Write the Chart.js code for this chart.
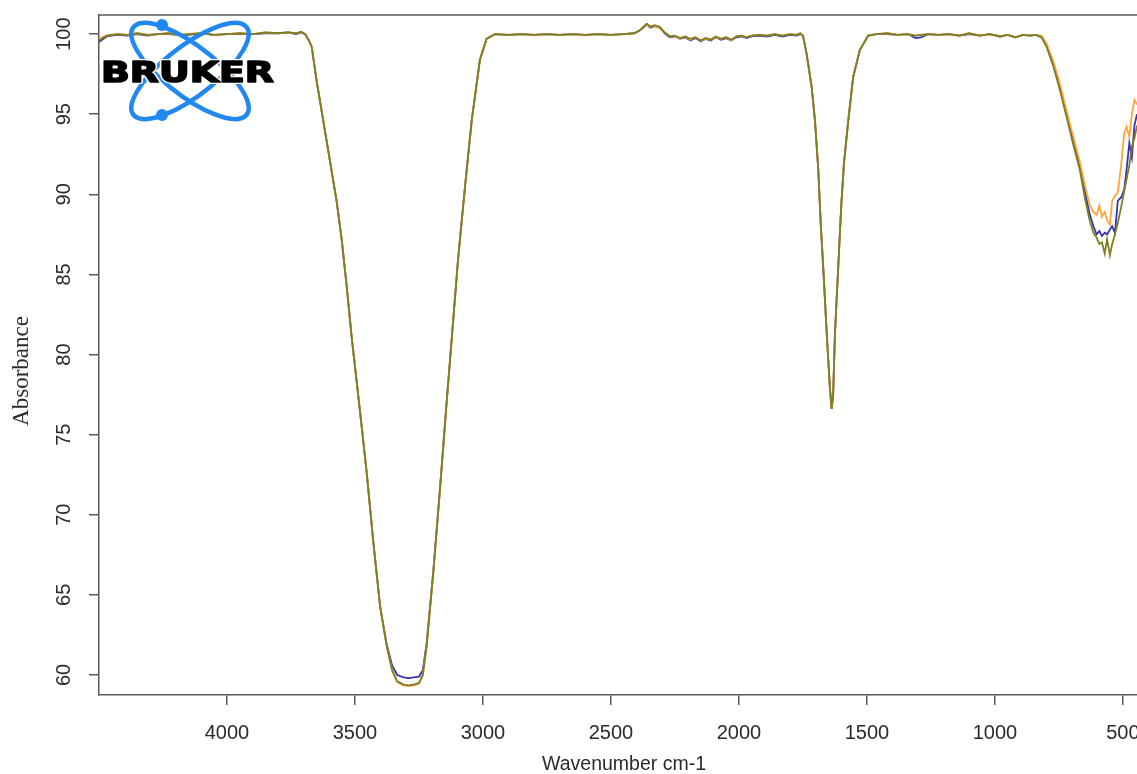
<!DOCTYPE html>
<html>
<head>
<meta charset="utf-8">
<title>FTIR spectrum</title>
<script src="https://cdn.jsdelivr.net/npm/chart.js@4.4.1/dist/chart.umd.min.js"></script>
<style>
  html, body { margin: 0; padding: 0; background: #fff; }
  #wrap { width: 1137px; height: 774px; }
</style>
</head>
<body>
<div id="wrap"><canvas id="spectrum" width="1137" height="774"></canvas></div>
<script>
/* ── Data ──────────────────────────────────────────────── */
const wavenumbers = [
  4500, 4470, 4430, 4390, 4350, 4310, 4270, 4230, 4190, 4150, 4100, 4050, 4000, 3950, 3900, 3850,
  3800, 3760, 3730, 3710, 3695, 3680, 3669, 3650, 3624, 3598, 3572, 3552, 3532, 3513, 3480, 3454,
  3429, 3402, 3376, 3355, 3335, 3310, 3290, 3270, 3250, 3235, 3220, 3194, 3168, 3142, 3122, 3097,
  3070, 3044, 3012, 2986, 2953, 2900, 2850, 2800, 2750, 2700, 2650, 2600, 2550, 2500, 2450, 2410,
  2390, 2370, 2360, 2345, 2330, 2310, 2290, 2270, 2250, 2230, 2210, 2190, 2170, 2150, 2130, 2110,
  2090, 2070, 2050, 2030, 2010, 1990, 1970, 1950, 1920, 1890, 1860, 1830, 1800, 1775, 1760, 1750,
  1736, 1716, 1703, 1690, 1680, 1671, 1657, 1645, 1638, 1632, 1625, 1612, 1600, 1590, 1573, 1554,
  1528, 1495, 1462, 1420, 1380, 1340, 1310, 1290, 1260, 1220, 1180, 1140, 1100, 1060, 1020, 980,
  950, 920, 890, 863, 840, 818, 798, 772, 746, 720, 694, 668, 649, 629, 615, 603,
  592, 582, 571, 562, 551, 542, 531, 520, 507, 495, 486, 475, 465, 455, 445
];

const sampleOlive = [
  99.6, 99.9, 100.0, 99.95, 100.05, 99.95, 100.0, 100.05, 99.95, 100.0, 100.05, 99.95, 100.0, 100.05, 100.0, 100.1,
  100.05, 100.1, 100.05, 100.15, 100.0, 99.6, 99.2, 97.1, 94.6, 92.1, 89.6, 87.2, 84.2, 81.1, 76.4, 72.6,
  68.4, 64.3, 61.8, 60.3, 59.6, 59.4, 59.35, 59.4, 59.5, 60.0, 61.8, 66.4, 71.6, 77.0, 81.0, 86.0,
  90.5, 94.6, 98.4, 99.7, 100.0, 99.95, 100.0, 99.95, 100.0, 99.95, 100.0, 99.95, 100.0, 99.95, 100.0, 100.05,
  100.2, 100.5, 100.65, 100.45, 100.55, 100.45, 100.1, 99.85, 99.9, 99.75, 99.85, 99.7, 99.8, 99.6, 99.75, 99.65,
  99.85, 99.7, 99.8, 99.65, 99.85, 99.9, 99.8, 99.9, 99.95, 99.9, 100.0, 99.9, 100.0, 99.95, 100.05, 99.9,
  98.8, 96.7, 94.6, 91.5, 88.0, 85.5, 81.3, 78.0, 76.6, 77.5, 81.3, 85.5, 89.4, 91.9, 94.6, 97.3,
  99.0, 99.9, 100.0, 100.05, 99.95, 100.0, 99.9, 99.95, 100.0, 99.95, 100.0, 99.9, 100.05, 99.9, 100.0, 99.85,
  99.95, 99.8, 99.95, 99.9, 99.95, 99.8, 99.2, 98.0, 96.5, 94.8, 93.1, 91.5, 89.8, 88.3, 87.6, 87.3,
  86.9, 87.0, 86.3, 87.2, 86.2, 86.9, 87.5, 88.2, 89.2, 90.2, 90.9, 91.8, 93.0, 93.5, 94.3
];

const sampleOrange = [
  99.7, 99.9, 100.0, 99.95, 100.05, 99.95, 100.0, 100.05, 99.95, 100.0, 100.05, 99.95, 100.0, 100.05, 100.0, 100.1,
  100.05, 100.1, 100.05, 100.15, 100.0, 99.6, 99.2, 97.1, 94.6, 92.1, 89.6, 87.2, 84.2, 81.1, 76.4, 72.6,
  68.4, 64.3, 61.8, 60.3, 59.55, 59.35, 59.3, 59.35, 59.45, 60.0, 61.8, 66.4, 71.6, 77.0, 81.0, 86.0,
  90.5, 94.6, 98.4, 99.7, 100.0, 99.95, 100.0, 99.95, 100.0, 99.95, 100.0, 99.95, 100.0, 99.95, 100.0, 100.05,
  100.2, 100.5, 100.6, 100.45, 100.5, 100.4, 100.1, 99.85, 99.85, 99.7, 99.85, 99.65, 99.8, 99.6, 99.7, 99.65,
  99.8, 99.7, 99.8, 99.6, 99.85, 99.9, 99.8, 99.9, 99.95, 99.9, 100.0, 99.9, 100.0, 99.95, 100.05, 99.9,
  98.8, 96.7, 94.6, 91.5, 88.0, 85.5, 81.3, 78.0, 76.6, 77.5, 81.3, 85.5, 89.4, 91.9, 94.6, 97.3,
  99.0, 99.9, 100.0, 100.05, 99.95, 100.0, 99.9, 99.95, 100.0, 99.95, 100.0, 99.9, 100.05, 99.9, 100.0, 99.85,
  99.95, 99.8, 99.95, 99.9, 99.95, 99.9, 99.4, 98.3, 96.9, 95.2, 93.6, 92.0, 90.6, 89.3, 88.9, 88.7,
  89.3, 88.6, 88.9, 88.4, 88.1, 89.6, 89.9, 90.1, 91.8, 93.8, 94.2, 93.6, 95.0, 95.9, 95.6
];

const sampleBlue = [
  99.5, 99.85, 99.95, 99.9, 100.0, 99.9, 100.0, 100.0, 99.95, 99.95, 100.05, 99.95, 100.0, 100.0, 100.0, 100.05,
  100.05, 100.1, 100.0, 100.1, 100.0, 99.6, 99.2, 97.1, 94.6, 92.1, 89.6, 87.2, 84.2, 81.1, 76.4, 72.6,
  68.4, 64.3, 61.9, 60.6, 60.0, 59.85, 59.8, 59.85, 59.9, 60.3, 62.0, 66.5, 71.6, 77.0, 81.0, 86.0,
  90.5, 94.6, 98.4, 99.7, 100.0, 99.95, 100.0, 99.95, 100.0, 99.95, 100.0, 99.95, 100.0, 99.95, 100.0, 100.05,
  100.2, 100.45, 100.6, 100.4, 100.5, 100.4, 100.05, 99.8, 99.85, 99.7, 99.8, 99.6, 99.75, 99.55, 99.7, 99.6,
  99.8, 99.65, 99.75, 99.6, 99.8, 99.85, 99.75, 99.85, 99.9, 99.85, 99.95, 99.85, 99.95, 99.9, 100.0, 99.9,
  98.8, 96.7, 94.6, 91.5, 88.0, 85.5, 81.3, 78.0, 76.6, 77.5, 81.3, 85.5, 89.4, 91.9, 94.6, 97.3,
  99.0, 99.9, 100.0, 100.0, 99.95, 100.0, 99.75, 99.8, 100.0, 99.95, 100.0, 99.9, 100.0, 99.9, 100.0, 99.85,
  99.95, 99.8, 99.95, 99.9, 99.95, 99.8, 99.3, 98.1, 96.7, 95.0, 93.3, 91.7, 90.2, 88.7, 88.0, 87.5,
  87.7, 87.4, 87.6, 87.5, 87.8, 88.0, 87.6, 89.6, 89.8, 90.3, 91.5, 93.2, 92.3, 94.3, 95.0
];

const xTickLabels = [4000, 3500, 3000, 2500, 2000, 1500, 1000, 500];
const yTickLabels = [60, 65, 70, 75, 80, 85, 90, 95, 100];

/* ── Styling ───────────────────────────────────────────── */
const AXIS_COLOR = '#5a5a5a';
const TEXT_COLOR = '#2a2a2a';
const SANS = '"Liberation Sans", Arial, sans-serif';

const toPoints = ys => wavenumbers.map((w, i) => ({ x: w, y: ys[i] }));

/* ── Plugin: frame top line, rotated y labels, titles, logo */
const decorations = {
  id: 'decorations',
  afterDraw(chart) {
    const { ctx, chartArea: a, scales } = chart;
    ctx.save();

    // top line of the box
    ctx.strokeStyle = AXIS_COLOR;
    ctx.lineWidth = 1.5;
    ctx.beginPath();
    ctx.moveTo(a.left, a.top);
    ctx.lineTo(a.right, a.top);
    ctx.stroke();

    // y tick labels, R style (rotated)
    ctx.fillStyle = TEXT_COLOR;
    ctx.font = '20px ' + SANS;
    ctx.textAlign = 'center';
    ctx.textBaseline = 'middle';
    yTickLabels.forEach(v => {
      const py = scales.y.getPixelForValue(v);
      ctx.save();
      ctx.translate(64, py);
      ctx.rotate(-Math.PI / 2);
      ctx.fillText(String(v), 0, 0);
      ctx.restore();
    });

    // axis titles
    ctx.font = '19.5px ' + SANS;
    ctx.fillText('Wavenumber cm-1', 624, 765);
    ctx.save();
    ctx.translate(22, 371);
    ctx.rotate(-Math.PI / 2);
    ctx.font = '23px "Liberation Serif", "Times New Roman", serif';
    ctx.fillText('Absorbance', 0, 0);
    ctx.restore();

    drawLogo(ctx);
    ctx.restore();
  }
};

function drawLogo(ctx) {
  const cx = 190, cy = 71;
  ctx.save();
  ctx.strokeStyle = '#2188f2';
  ctx.lineWidth = 4.5;
  [-1, 1].forEach(dir => {
    ctx.save();
    ctx.translate(cx, cy);
    ctx.scale(1, 0.82);
    ctx.rotate(dir * Math.PI / 4);
    ctx.beginPath();
    ctx.ellipse(0, 0, 78, 28, 0, 0, Math.PI * 2);
    ctx.restore();
    ctx.stroke();
  });
  ctx.fillStyle = '#2188f2';
  [[162, 25], [162, 115]].forEach(([x, y]) => {
    ctx.beginPath();
    ctx.arc(x, y, 6, 0, Math.PI * 2);
    ctx.fill();
  });

  // wordmark
  ctx.font = '900 29px "DejaVu Sans", ' + SANS;
  ctx.textAlign = 'left';
  ctx.textBaseline = 'alphabetic';
  const w = ctx.measureText('BRUKER').width;
  ctx.translate(101, 82);
  ctx.scale(173 / w, 1);
  ctx.lineJoin = 'round';
  ctx.strokeStyle = '#ffffff';
  ctx.lineWidth = 4;
  ctx.strokeText('BRUKER', 0, 0);
  ctx.fillStyle = '#000000';
  ctx.fillText('BRUKER', 0, 0);
  ctx.strokeStyle = '#000000';
  ctx.lineWidth = 1.6;
  ctx.strokeText('BRUKER', 0, 0);
  ctx.restore();
}

/* ── Chart ─────────────────────────────────────────────── */
const lineSet = (label, ys, color) => ({
  label,
  data: toPoints(ys),
  borderColor: color,
  borderWidth: 1.8,
  pointRadius: 0,
  tension: 0,
  fill: false,
});

new Chart(document.getElementById('spectrum').getContext('2d'), {
  type: 'line',
  data: {
    // first dataset is painted last (on top)
    datasets: [
      lineSet('Sample 3', sampleOlive, '#7e7e22'),
      lineSet('Sample 2', sampleOrange, '#ffa53a'),
      lineSet('Sample 1', sampleBlue, '#3535b0'),
    ],
  },
  options: {
    responsive: false,
    animation: false,
    devicePixelRatio: 1,
    layout: { padding: { top: 15, left: 0, right: 0, bottom: 0 } },
    plugins: {
      legend: { display: false },
      tooltip: { enabled: false },
    },
    scales: {
      x: {
        type: 'linear',
        reverse: true,
        min: 445,
        max: 4500,
        afterBuildTicks: s => { s.ticks = xTickLabels.map(v => ({ value: v })); },
        afterFit: s => { s.height = 79; s.paddingLeft = 0; s.paddingRight = 0; },
        ticks: {
          color: TEXT_COLOR,
          font: { family: SANS, size: 20 },
          padding: 16,
          maxRotation: 0,
          autoSkip: false,
          callback: v => String(v),
        },
        grid: { drawOnChartArea: false, drawTicks: true, tickLength: 10, color: AXIS_COLOR, lineWidth: 1.5 },
        border: { display: true, color: AXIS_COLOR, width: 1.5 },
      },
      y: {
        min: 58.75,
        max: 101.19,
        afterBuildTicks: s => { s.ticks = yTickLabels.map(v => ({ value: v })); },
        afterFit: s => { s.width = 99; s.paddingTop = 0; s.paddingBottom = 0; },
        ticks: { color: 'rgba(0,0,0,0)', font: { family: SANS, size: 19 } },
        grid: { drawOnChartArea: false, drawTicks: true, tickLength: 10, color: AXIS_COLOR, lineWidth: 1.5 },
        border: { display: true, color: AXIS_COLOR, width: 1.5 },
      },
    },
  },
  plugins: [decorations],
});
</script>
</body>
</html>
